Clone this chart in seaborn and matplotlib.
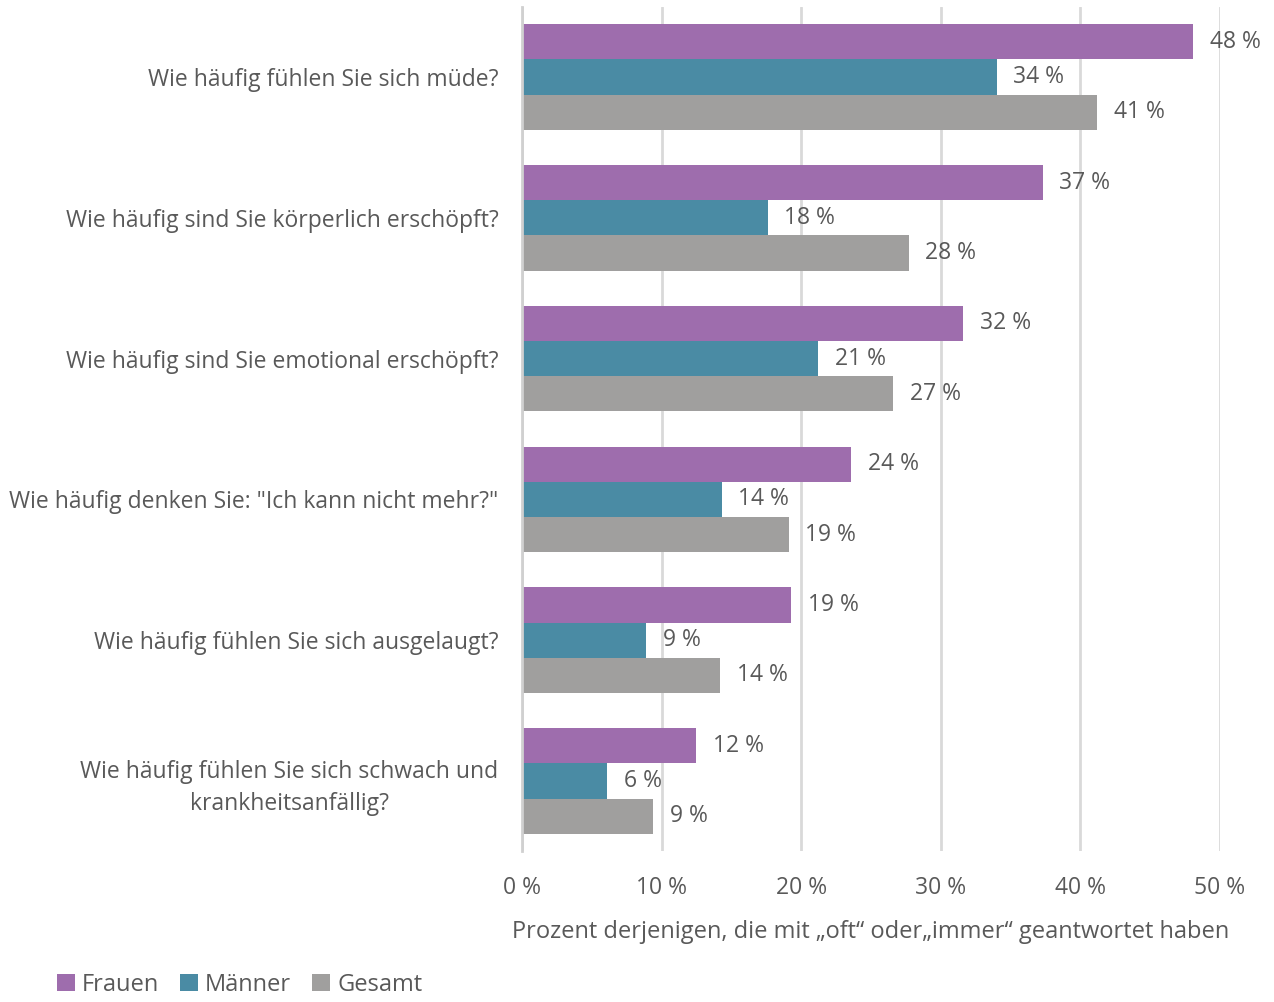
import matplotlib
matplotlib.use("Agg")
import matplotlib.pyplot as plt
import seaborn as sns
import pandas as pd

questions = [
    "Wie häufig fühlen Sie sich müde?",
    "Wie häufig sind Sie körperlich erschöpft?",
    "Wie häufig sind Sie emotional erschöpft?",
    'Wie häufig denken Sie: "Ich kann nicht mehr?"',
    "Wie häufig fühlen Sie sich ausgelaugt?",
    "Wie häufig fühlen Sie sich schwach und\nkrankheitsanfällig?",
]
groups = ["Frauen", "Männer", "Gesamt"]
frauen = [48.1, 37.3, 31.6, 23.6, 19.3, 12.5]
maenner = [34.0, 17.6, 21.2, 14.3, 8.9, 6.1]
gesamt = [41.2, 27.7, 26.6, 19.1, 14.2, 9.4]
xticks = [0, 10, 20, 30, 40, 50]
xlabel = "Prozent derjenigen, die mit „oft“ oder„immer“ geantwortet haben"
colors = ["#9E6DAD", "#4A8BA4", "#A09F9E"]

rows = []
for g, vals in zip(groups, [frauen, maenner, gesamt]):
    for q, v in zip(questions, vals):
        rows.append({"Frage": q, "Gruppe": g, "Wert": v})
df = pd.DataFrame(rows)

sns.set_theme(style="white")
plt.rcParams["font.family"] = ["Open Sans", "DejaVu Sans"]
txt = "#595959"
fs = 16.5

fig = plt.figure(figsize=(12.74, 10.02), dpi=100)
ax = fig.add_axes([0.4097, 0.1502, 0.5479, 0.8433])
sns.barplot(data=df, y="Frage", x="Wert", hue="Gruppe", order=questions,
            hue_order=groups, palette=colors, orient="h", width=0.75,
            saturation=1, ax=ax, legend=True, zorder=3, linewidth=0)

for cont in ax.containers:
    ax.bar_label(cont, labels=[f"{round(b.get_width()):.0f} %" for b in cont],
                 padding=12, fontsize=fs, color=txt)

ax.set_xlim(0, 50)
ax.set_xticks(xticks)
ax.set_xticklabels([f"{t} %" for t in xticks])
ax.tick_params(axis="x", colors=txt, labelsize=fs, length=0, pad=18)
ax.tick_params(axis="y", colors=txt, labelsize=fs, length=0, pad=17)
for lab in ax.get_yticklabels():
    lab.set_color(txt)
    lab.set_multialignment("center")
    lab.set_linespacing(1.45)
ax.set_ylabel("")
ax.set_xlabel(xlabel, fontsize=fs + 0.5, color=txt, labelpad=14)
ax.xaxis.grid(True, color="#D9D9D9", linewidth=2, zorder=0)
ax.set_axisbelow(True)
for s in ["top", "right", "bottom"]:
    ax.spines[s].set_visible(False)
ax.spines["left"].set_color("#D0D0D0")
ax.spines["left"].set_linewidth(2)
ax.spines["left"].set_zorder(5)

handles, labels = ax.get_legend_handles_labels()
ax.get_legend().remove()
fig.legend(handles, labels, loc="lower left", bbox_to_anchor=(0.028, -0.016),
           ncol=3, frameon=False, fontsize=fs + 0.5, labelcolor=txt,
           handlelength=0.75, handleheight=0.75, handletextpad=0.3,
           columnspacing=0.9)

fig.savefig("out.png", dpi=100)
